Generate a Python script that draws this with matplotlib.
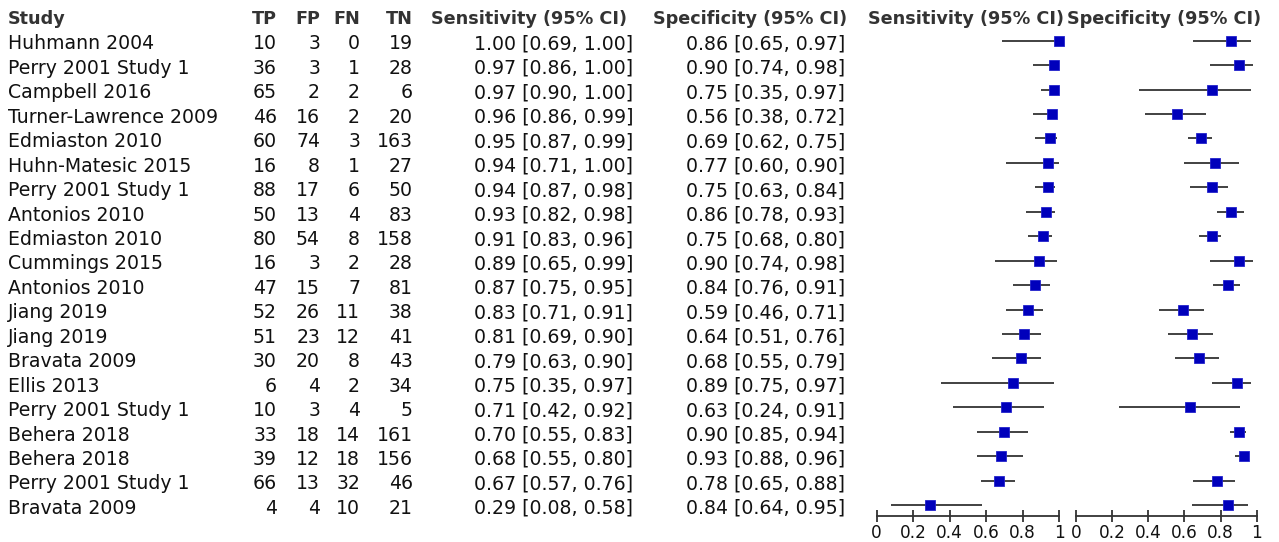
import matplotlib
matplotlib.use("Agg")
import matplotlib.pyplot as plt
import matplotlib.transforms as mtransforms

studies = ["Huhmann 2004", "Perry 2001 Study 1", "Campbell 2016", "Turner-Lawrence 2009",
           "Edmiaston 2010", "Huhn-Matesic 2015", "Perry 2001 Study 1", "Antonios 2010",
           "Edmiaston 2010", "Cummings 2015", "Antonios 2010", "Jiang 2019", "Jiang 2019",
           "Bravata 2009", "Ellis 2013", "Perry 2001 Study 1", "Behera 2018", "Behera 2018",
           "Perry 2001 Study 1", "Bravata 2009"]
tp = [10, 36, 65, 46, 60, 16, 88, 50, 80, 16, 47, 52, 51, 30, 6, 10, 33, 39, 66, 4]
fp = [3, 3, 2, 16, 74, 8, 17, 13, 54, 3, 15, 26, 23, 20, 4, 3, 18, 12, 13, 4]
fn = [0, 1, 2, 2, 3, 1, 6, 4, 8, 2, 7, 11, 12, 8, 2, 4, 14, 18, 32, 10]
tn = [19, 28, 6, 20, 163, 27, 50, 83, 158, 28, 81, 38, 41, 43, 34, 5, 161, 156, 46, 21]
sens = [1.00, 0.97, 0.97, 0.96, 0.95, 0.94, 0.94, 0.93, 0.91, 0.89, 0.87, 0.83, 0.81, 0.79,
        0.75, 0.71, 0.70, 0.68, 0.67, 0.29]
sens_lo = [0.69, 0.86, 0.90, 0.86, 0.87, 0.71, 0.87, 0.82, 0.83, 0.65, 0.75, 0.71, 0.69, 0.63,
           0.35, 0.42, 0.55, 0.55, 0.57, 0.08]
sens_hi = [1.00, 1.00, 1.00, 0.99, 0.99, 1.00, 0.98, 0.98, 0.96, 0.99, 0.95, 0.91, 0.90, 0.90,
           0.97, 0.92, 0.83, 0.80, 0.76, 0.58]
spec = [0.86, 0.90, 0.75, 0.56, 0.69, 0.77, 0.75, 0.86, 0.75, 0.90, 0.84, 0.59, 0.64, 0.68,
        0.89, 0.63, 0.90, 0.93, 0.78, 0.84]
spec_lo = [0.65, 0.74, 0.35, 0.38, 0.62, 0.60, 0.63, 0.78, 0.68, 0.74, 0.76, 0.46, 0.51, 0.55,
           0.75, 0.24, 0.85, 0.88, 0.65, 0.64]
spec_hi = [0.97, 0.98, 0.97, 0.72, 0.75, 0.90, 0.84, 0.93, 0.80, 0.98, 0.91, 0.71, 0.76, 0.79,
           0.97, 0.91, 0.94, 0.96, 0.88, 0.95]
xticks = [0, 0.2, 0.4, 0.6, 0.8, 1]
xticklabels = ["0", "0.2", "0.4", "0.6", "0.8", "1"]

W, H = 1279, 542
fig = plt.figure(figsize=(W / 100, H / 100), dpi=100)
fig.patch.set_facecolor("white")

row0, rowstep = 40.7, 24.44
axis_y = 516.0
y_top = (0 - row0) / rowstep
y_bot = (axis_y - row0) / rowstep

def px_axes(x0, x1):
    return fig.add_axes([x0 / W, 1 - axis_y / H, (x1 - x0) / W, axis_y / H])

ax_s = px_axes(876.7, 1059.0)
ax_p = px_axes(1076.0, 1256.7)

line_col = "#333333"
mk_col = "#0000BB"
n = len(studies)
rows = list(range(n))

for ax, est, lo, hi in [(ax_s, sens, sens_lo, sens_hi), (ax_p, spec, spec_lo, spec_hi)]:
    ax.set_xlim(0, 1)
    ax.set_ylim(y_bot, y_top)
    ax.hlines(rows, lo, hi, color=line_col, lw=1.3, clip_on=False, zorder=2)
    ax.plot(est, rows, "s", color=mk_col, ms=7.6, mec="#2222cc", mew=0.6,
            clip_on=False, zorder=3, ls="none")
    for s in ["top", "left", "right"]:
        ax.spines[s].set_visible(False)
    ax.spines["bottom"].set_color(line_col)
    ax.spines["bottom"].set_linewidth(1.3)
    ax.set_yticks([])
    ax.set_xticks(xticks)
    ax.set_xticklabels(xticklabels)
    ax.tick_params(axis="x", direction="inout", length=8, width=1.3, color=line_col,
                   labelsize=12.2, pad=2, labelcolor="#111111")
    ax.patch.set_alpha(0)

# text table, x in figure pixels, y in row units
tr = mtransforms.blended_transform_factory(fig.transFigure, ax_s.transData)
body_fs = 13.6
head_fs = 12.7
body_col = "#111111"
head_col = "#333333"
base_off = 0.36
head_y = -0.68

def tx(xpx, y, s, ha, **kw):
    fig.text(xpx / W, y, s, ha=ha, va="baseline", transform=tr, **kw)

tx(8, head_y, "Study", "left", fontsize=head_fs, fontweight="bold", color=head_col)
for xr, lab in [(277, "TP"), (320, "FP"), (360, "FN"), (413, "TN"),
                (627, "Sensitivity (95% CI)"), (847, "Specificity (95% CI)")]:
    tx(xr, head_y, lab, "right", fontsize=head_fs, fontweight="bold", color=head_col)
tx(868, head_y, "Sensitivity (95% CI)", "left", fontsize=head_fs, fontweight="bold", color=head_col)
tx(1067, head_y, "Specificity (95% CI)", "left", fontsize=head_fs, fontweight="bold", color=head_col)

for i in rows:
    y = i + base_off
    tx(8, y, studies[i], "left", fontsize=body_fs, color=body_col)
    tx(277, y, str(tp[i]), "right", fontsize=body_fs, color=body_col)
    tx(320, y, str(fp[i]), "right", fontsize=body_fs, color=body_col)
    tx(360, y, str(fn[i]), "right", fontsize=body_fs, color=body_col)
    tx(413, y, str(tn[i]), "right", fontsize=body_fs, color=body_col)
    tx(633, y, f"{sens[i]:.2f} [{sens_lo[i]:.2f}, {sens_hi[i]:.2f}]", "right",
       fontsize=body_fs, color=body_col)
    tx(845, y, f"{spec[i]:.2f} [{spec_lo[i]:.2f}, {spec_hi[i]:.2f}]", "right",
       fontsize=body_fs, color=body_col)

fig.savefig("out.png", dpi=100, facecolor="white")
